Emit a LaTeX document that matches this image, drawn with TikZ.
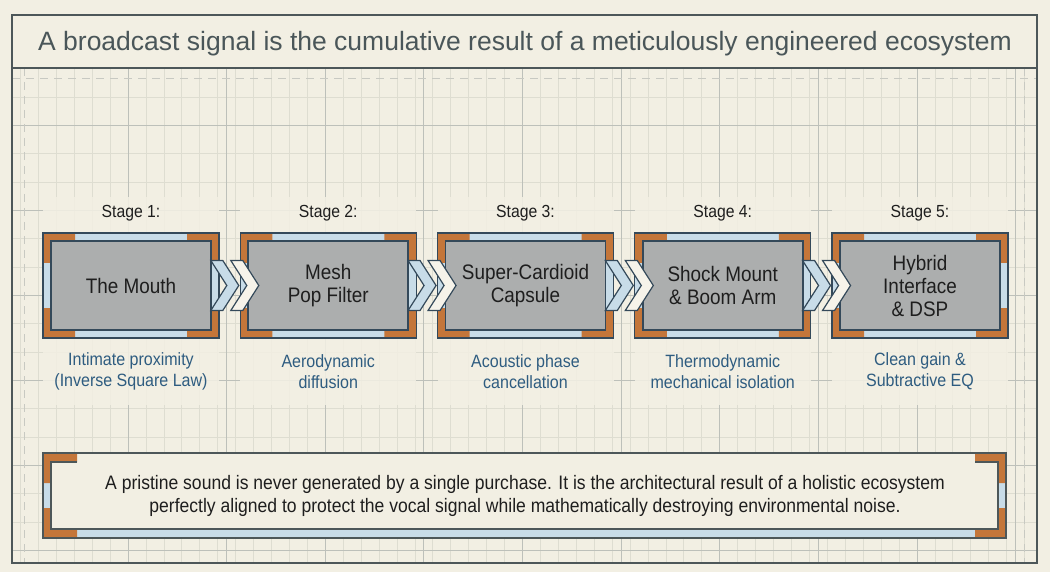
\documentclass[tikz,border=0pt]{standalone}
\usepackage{fontspec}
\setmainfont{Liberation Sans}
\newfontfamily\titlefont{Liberation Sans}
\newfontfamily\condfont[FakeStretch=0.9]{Liberation Sans}
\definecolor{bgc}{HTML}{F2EFE3}
\definecolor{gridminor}{HTML}{DEDDD1}
\definecolor{gridmajor}{HTML}{BDC0BA}
\definecolor{framec}{HTML}{4D5759}
\definecolor{darkb}{HTML}{34495A}
\definecolor{boxgray}{HTML}{ACAEAE}
\definecolor{lblue}{HTML}{C8DCE8}
\definecolor{orng}{HTML}{C4763A}
\definecolor{bluetext}{HTML}{2E5C80}
\definecolor{textdark}{HTML}{1E1E1E}
\definecolor{titlecol}{HTML}{4A5659}
\definecolor{chevlight}{HTML}{F6F3EA}
\tikzset{
  stagebox/.style={draw=darkb, line width=1.6pt, fill=boxgray, minimum width=160pt, minimum height=89pt,
    inner sep=0pt, align=center, font=\condfont\fontsize{21}{23}\selectfont, text=textdark},
  stagelbl/.style={font=\condfont\fontsize{17.5}{20}\selectfont, text=textdark, inner sep=0pt},
  desc/.style={align=center, font=\condfont\fontsize{17.8}{21}\selectfont, text=bluetext, inner sep=0pt},
  notetext/.style={align=center, font=\condfont\fontsize{19.5}{23}\selectfont, text=textdark, inner sep=0pt},
  titletext/.style={font=\titlefont\fontsize{26.5}{30}\selectfont, text=titlecol, inner sep=0pt},
  outerframe/.style={draw=darkb, line width=1.4pt, fill=lblue},
  chevA/.style={draw=darkb, line width=1.2pt, fill=lblue, line join=miter},
  chevB/.style={draw=darkb, line width=1.2pt, fill=chevlight, line join=miter},
  minorline/.style={draw=gridminor, line width=0.7pt},
  majorline/.style={draw=gridmajor, line width=0.8pt},
  dashline/.style={draw=gridmajor!80!bgc, line width=0.8pt, dash pattern=on 8pt off 6pt},
  panel/.style={fill=bgc, fill opacity=0.88},
}
\begin{document}
\begin{tikzpicture}[x=1pt,y=-1pt]
\useasboundingbox (0,0) rectangle (1050,572);
\fill[bgc] (0,0) rectangle (1050,572);
% grid
\begin{scope}
\clip (12,68) rectangle (1037,563);
\foreach \k in {-6,...,51} \draw[minorline] ({128+\k*17.93},68) -- ({128+\k*17.93},563);
\foreach \k in {-1,...,17} \draw[minorline] (12,{97+\k*28.33}) -- (1037,{97+\k*28.33});
\foreach \k in {0,...,9} \draw[majorline] ({128+\k*98.625},68) -- ({128+\k*98.625},563);
\foreach \k in {0,...,5} \draw[majorline] (12,{125+\k*85}) -- (1037,{125+\k*85});
\draw[dashline] (12,78) -- (1037,78);
\draw[dashline] (24,68) -- (24,563);
\draw[dashline] (1024,68) -- (1024,563);
\end{scope}
% frame and title
\fill[bgc] (12,15) rectangle (1037,68);
\draw[framec, line width=1.8pt] (12,15) rectangle (1037,563);
\draw[framec, line width=1.8pt] (12,68) -- (1037,68);
\node[titletext] (title) at (525,44) {A broadcast signal is the cumulative result of a meticulously engineered ecosystem};
% column panels
\foreach \cx in {131,328.25,525.5,722.75,920} \fill[panel] ({\cx-88},197) rectangle ({\cx+88},405);
% stages
\foreach \i/\cx/\txt/\lbl in {
  1/131/{The Mouth}/{Intimate proximity\\(Inverse Square Law)},
  2/328.25/{Mesh\\Pop Filter}/{Aerodynamic\\diffusion},
  3/525.5/{Super-Cardioid\\Capsule}/{Acoustic phase\\cancellation},
  4/722.75/{Shock Mount\\\& Boom Arm}/{Thermodynamic\\mechanical isolation},
  5/920/{Hybrid\\Interface\\\& DSP}/{Clean gain \&\\Subtractive EQ}} {
  \draw[outerframe] ({\cx-88},233) rectangle ({\cx+88},338);
  \fill[orng] ({\cx-88},233) -- ({\cx-56},233) -- ({\cx-56},241) -- ({\cx-80},241) -- ({\cx-80},263) -- ({\cx-88},263) -- cycle;
  \fill[orng] ({\cx+88},233) -- ({\cx+56},233) -- ({\cx+56},241) -- ({\cx+80},241) -- ({\cx+80},263) -- ({\cx+88},263) -- cycle;
  \fill[orng] ({\cx-88},338) -- ({\cx-56},338) -- ({\cx-56},330) -- ({\cx-80},330) -- ({\cx-80},308) -- ({\cx-88},308) -- cycle;
  \fill[orng] ({\cx+88},338) -- ({\cx+56},338) -- ({\cx+56},330) -- ({\cx+80},330) -- ({\cx+80},308) -- ({\cx+88},308) -- cycle;
  \draw[darkb, line width=1.4pt] ({\cx-88},233) rectangle ({\cx+88},338);
  \node[stagebox] (s\i) at (\cx,285.5) {\txt};
  \node[stagelbl] (t\i) at (\cx,213) {Stage \i:};
  \node[desc] (d\i) at (\cx,371.5) {\lbl};
}
% chevron connectors
\foreach \i in {1,2,3,4} {
  \draw[chevA] ([shift={(-1,-25)}]s\i.east) -- ++(12,0) -- ++(16,25) -- ++(-16,25) -- ++(-12,0) -- ++(16,-25) -- cycle;
  \draw[chevB] ([shift={(19,-25)}]s\i.east) -- ++(12,0) -- ++(16,25) -- ++(-16,25) -- ++(-12,0) -- ++(16,-25) -- cycle;
}
% bottom note box
\fill[lblue] (43,453) rectangle (1006,538);
\fill[bgc] (51,453) rectangle (998,529);
\fill[orng] (43,453) -- (77,453) -- (77,462) -- (51,462) -- (51,483) -- (43,483) -- cycle;
\fill[orng] (43,538) -- (77,538) -- (77,529) -- (51,529) -- (51,508) -- (43,508) -- cycle;
\fill[orng] (1006,453) -- (975,453) -- (975,462) -- (998,462) -- (998,483) -- (1006,483) -- cycle;
\fill[orng] (1006,538) -- (975,538) -- (975,529) -- (998,529) -- (998,508) -- (1006,508) -- cycle;
\draw[framec, line width=1.6pt] (43,453) rectangle (1006,538);
\draw[framec, line width=1.4pt] (77,462) -- (51,462) -- (51,529) -- (998,529) -- (998,462) -- (975,462);
\node[notetext] (note) at (525,495.5) {A pristine sound is never generated by a single purchase. It is the architectural result of a holistic ecosystem\\perfectly aligned to protect the vocal signal while mathematically destroying environmental noise.};
\end{tikzpicture}
\end{document}
